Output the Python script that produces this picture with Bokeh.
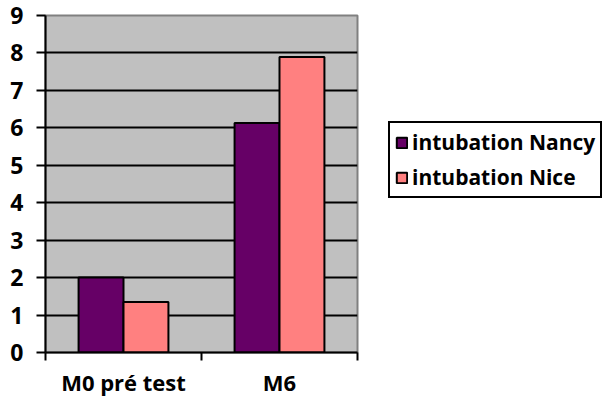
from bokeh.plotting import figure
from bokeh.models import (Range1d, LinearAxis, FixedTicker, Legend, LegendItem, ColumnDataSource, Grid)
from bokeh.transform import dodge
from bokeh.embed import file_html
from bokeh.resources import INLINE

categories = ["M0 pré test", "M6"]
nancy = [2.0, 6.13]
nice = [1.35, 7.89]
y_ticks = [0, 1, 2, 3, 4, 5, 6, 7, 8, 9]

# category slots: each category occupies one unit on the x scale
cat_center = [i + 0.5 for i in range(len(categories))]
cat_bounds = list(range(len(categories) + 1))

src = ColumnDataSource(dict(xc=cat_center, nancy=nancy, nice=nice))

FONT = "Open Sans"

p = figure(x_range=Range1d(0, len(categories)), y_range=Range1d(0, 9),
           frame_width=312, frame_height=337, min_border_left=45, min_border_top=15,
           min_border_bottom=50, min_border_right=250,
           output_backend="svg", toolbar_location=None,
           x_axis_location=None, y_axis_location=None)
p.background_fill_color = "#C0C0C0"
p.border_fill_color = "white"
p.outline_line_color = "#808080"
p.outline_line_width = 2
for g in p.xgrid:
    g.visible = False
for g in p.ygrid:
    g.visible = False

# y axis
yax = LinearAxis(ticker=FixedTicker(ticks=y_ticks))
yax.axis_line_width = 2
yax.axis_line_color = "black"
yax.major_tick_line_width = 2
yax.major_tick_line_color = "black"
yax.major_tick_out = 9
yax.major_tick_in = 0
yax.minor_tick_line_color = None
yax.major_label_text_font = FONT
yax.major_label_text_font_style = "bold"
yax.major_label_text_font_size = "23px"
yax.major_label_text_color = "black"
yax.major_label_standoff = 13
p.add_layout(yax, "left")

# x axis: labels at category centres, ticks at category boundaries
xax = LinearAxis(ticker=FixedTicker(ticks=cat_center, minor_ticks=cat_bounds))
xax.major_label_overrides = {c: lab for c, lab in zip(cat_center, categories)}
xax.axis_line_width = 2
xax.axis_line_color = "black"
xax.major_tick_line_color = None
xax.major_tick_out = 0
xax.major_tick_in = 0
xax.minor_tick_line_width = 2
xax.minor_tick_line_color = "black"
xax.minor_tick_out = 8
xax.minor_tick_in = 0
xax.major_label_text_font = FONT
xax.major_label_text_font_style = "bold"
xax.major_label_text_font_size = "22px"
xax.major_label_text_color = "black"
xax.major_label_standoff = 6
p.add_layout(xax, "below")

yg = Grid(dimension=1, ticker=FixedTicker(ticks=y_ticks), grid_line_color="black", grid_line_width=2)
p.add_layout(yg)

r1 = p.vbar(x=dodge("xc", -0.144), top="nancy", width=0.288, source=src,
            fill_color="#660066", line_color="black", line_width=2)
r2 = p.vbar(x=dodge("xc", 0.144), top="nice", width=0.288, source=src,
            fill_color="#FF8080", line_color="black", line_width=2)

legend = Legend(items=[LegendItem(label="intubation Nancy", renderers=[r1]),
                       LegendItem(label="intubation Nice", renderers=[r2])],
                location=(31, 154))
legend.border_line_color = "black"
legend.border_line_alpha = 1
legend.border_line_width = 2
legend.background_fill_color = "white"
legend.background_fill_alpha = 1
legend.label_text_font = FONT
legend.label_text_font_style = "bold"
legend.label_text_font_size = "21px"
legend.label_text_color = "black"
legend.glyph_width = 13
legend.glyph_height = 13
legend.label_standoff = 4
legend.spacing = 7
legend.padding = 5
legend.margin = 0
p.add_layout(legend, "right")

open("out.html", "w").write(file_html(p, INLINE))
